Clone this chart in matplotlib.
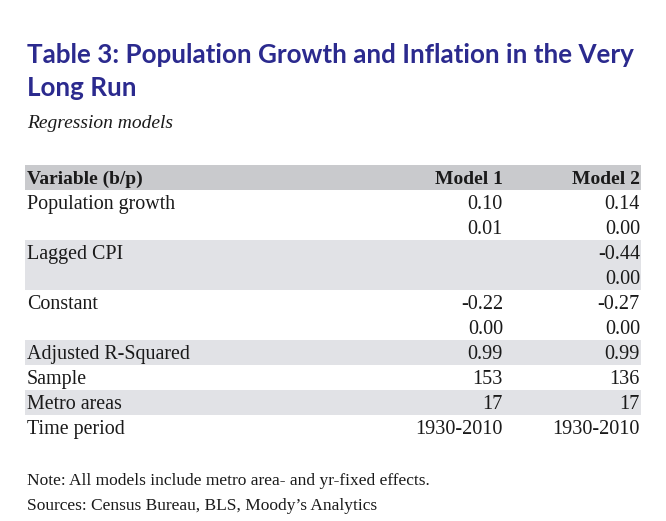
import matplotlib.pyplot as plt
from matplotlib.patches import Rectangle

# table content
title = "Table 3: Population Growth and Inflation in the Very\nLong Run"
subtitle = "Regression models"
headers = ["Variable (b/p)", "Model 1", "Model 2"]
variables = ["Population growth", "", "Lagged CPI", "", "Constant", "",
             "Adjusted R-Squared", "Sample", "Metro areas", "Time period"]
model1 = ["0.10", "0.01", "", "", "-0.22", "0.00", "0.99", "153", "17", "1930-2010"]
model2 = ["0.14", "0.00", "-0.44", "0.00", "-0.27", "0.00", "0.99", "136", "17", "1930-2010"]
shaded = [False, False, True, True, False, False, True, False, True, False]
notes = ["Note: All models include metro area- and yr-fixed effects.",
         "Sources: Census Bureau, BLS, Moody\u2019s Analytics"]

W, H = 666, 521
fig = plt.figure(figsize=(W / 100, H / 100), dpi=100)
ax = fig.add_axes([0, 0, 1, 1])
ax.set_xlim(0, W)
ax.set_ylim(H, 0)
ax.axis("off")

serif = ["Liberation Serif", "DejaVu Serif"]
navy = "#2b2a8e"
ink = "#1a1a1a"

ax.text(27, 55, "Table 3: Population Growth and Inflation in the Very", ha="left",
        va="center", fontsize=18.7, fontweight="bold", family="Lato", color=navy)
ax.text(27, 88, "Long Run", ha="left", va="center", fontsize=18.7,
        fontweight="bold", family="Lato", color=navy)
ax.text(27, 123, subtitle, ha="left", va="center", fontsize=14, style="italic",
        family=serif, color=ink)

left, c1, c2, right = 25, 503, 640, 641
top, rh = 165, 25

# header band
ax.add_patch(Rectangle((left, top), right - left, rh, color="#c9cacd", lw=0))
for txt, x, ha in zip(headers, [27, c1, c2], ["left", "right", "right"]):
    ax.text(x, top + rh / 2 + 2, txt, ha=ha, va="center", fontsize=14,
            fontweight="bold", family=serif, color=ink)

for i, (v, a, b, s) in enumerate(zip(variables, model1, model2, shaded)):
    y0 = top + rh * (i + 1)
    if s:
        ax.add_patch(Rectangle((left, y0), right - left, rh, color="#e1e2e6", lw=0))
    yc = y0 + rh / 2 + 2
    ax.text(27, yc, v, ha="left", va="center", fontsize=14.4, family=serif, color=ink)
    ax.text(c1, yc, a, ha="right", va="center", fontsize=14.6, family=serif, color=ink)
    ax.text(c2, yc, b, ha="right", va="center", fontsize=14.6, family=serif, color=ink)

for j, n in enumerate(notes):
    ax.text(27, 481 + 25 * j, n, ha="left", va="center", fontsize=12.5,
            family=serif, color=ink)

fig.savefig("out.png", dpi=100)
